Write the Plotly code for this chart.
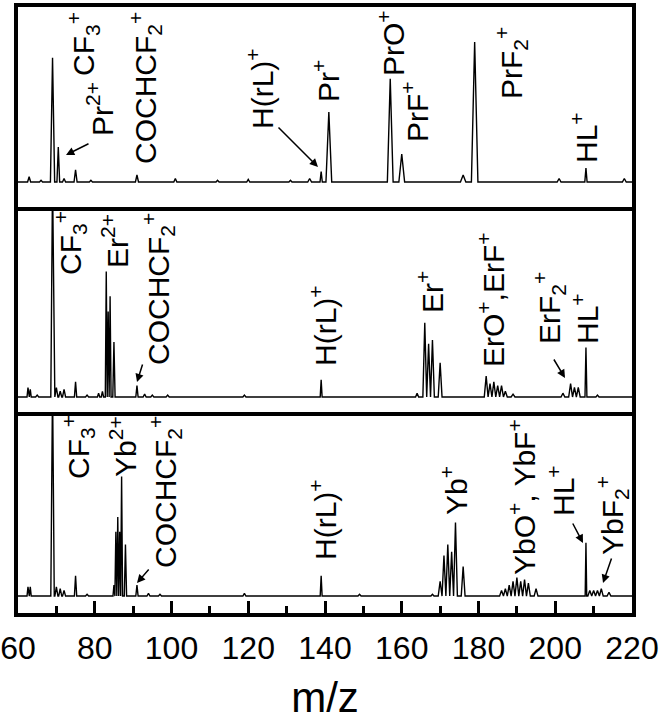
import plotly.graph_objects as go
from plotly.subplots import make_subplots

# peak tables (m/z, relative intensity, half width)
pr_mz = [62.9, 66.0, 69.0, 70.5, 72.0, 75.0, 79.0, 91.0, 101.0, 112.0, 120.0,
         131.0, 136.0, 139.0, 141.0, 157.0, 160.0, 176.0, 179.0, 201.0, 208.0, 218.0]
pr_int = [3, 1, 71, 20, 2, 7, 1, 4, 2, 1, 1.5, 1, 2, 6, 40, 59, 16, 4, 80, 2, 8, 2]
pr_hw = [0.4, 0.4, 0.55, 0.35, 0.4, 0.4, 0.4, 0.4, 0.4, 0.4, 0.4,
         0.4, 0.5, 0.3, 0.75, 0.75, 0.75, 0.7, 0.85, 0.5, 0.3, 0.5]

er_mz = [62.6, 63.2, 65.0, 69.0, 70.0, 71.0, 72.0, 75.0, 78.0, 81.0, 82.0, 83.0,
         83.5, 84.0, 85.0, 91.0, 93.0, 95.0, 99.0, 119.0, 139.0, 164.0, 166.0,
         167.0, 168.0, 170.0, 182.0, 183.0, 184.0, 185.0, 186.0, 187.0, 189.0,
         202.0, 204.0, 205.0, 206.0, 208.0, 211.0]
er_int = [5, 4, 1, 115, 5, 3, 4, 8, 1, 2, 3, 66, 45, 53, 29, 6, 1.5, 1, 1, 1, 9, 2, 39,
          28, 30, 18, 11, 7, 8, 6, 6, 3, 1.5, 2, 7, 5, 5, 26, 1]
er_hw = [0.25, 0.25, 0.4, 0.45, 0.4, 0.4, 0.4, 0.3, 0.4, 0.3, 0.3, 0.25,
         0.25, 0.25, 0.3, 0.3, 0.4, 0.4, 0.4, 0.4, 0.25, 0.4, 0.5,
         0.5, 0.5, 0.5, 0.5, 0.5, 0.5, 0.5, 0.5, 0.5, 0.5,
         0.5, 0.5, 0.5, 0.5, 0.25, 0.4]

yb_mz = [62.6, 63.2, 69.0, 70.0, 71.0, 72.0, 75.0, 78.0, 85.0, 85.5, 86.0, 86.5,
         87.0, 88.0, 91.0, 94.0, 97.0, 119.0, 139.0, 149.0, 168.0, 170.0, 171.0,
         172.0, 173.0, 174.0, 176.0, 186.0, 187.0, 188.0, 189.0, 190.0, 191.0,
         192.0, 193.0, 195.0, 208.0, 209.0, 210.0, 211.0, 212.0, 214.0]
yb_int = [5, 5, 115, 5, 4, 3, 11, 1, 6, 35, 43, 35, 65, 28, 6, 1.5, 1, 1.5, 11, 1, 1,
          8, 22, 28, 24, 40, 16, 3, 4, 6, 8, 10, 8, 9, 7, 4, 29, 3, 3, 3, 4, 2]
yb_hw = [0.25, 0.25, 0.45, 0.4, 0.4, 0.4, 0.3, 0.4, 0.25, 0.25, 0.25, 0.25,
         0.25, 0.3, 0.3, 0.4, 0.4, 0.4, 0.25, 0.4, 0.4, 0.5, 0.5,
         0.5, 0.5, 0.5, 0.5, 0.5, 0.5, 0.5, 0.5, 0.5, 0.5,
         0.5, 0.5, 0.5, 0.2, 0.5, 0.5, 0.5, 0.5, 0.5]

MZ_RANGE = [60, 220]
FONT = "Arial, Liberation Sans, sans-serif"

# figure geometry (pixels) used to place the labels in paper coords
L, R, T, B = 18, 632, 7, 613


def profile(mz, inten, hw):
    """Turn a peak table into a stick-like line profile."""
    xs, ys = [MZ_RANGE[0]], [0]
    for c, h, w in sorted(zip(mz, inten, hw)):
        xs += [c - w, c, c + w]
        ys += [0, h, 0]
    xs.append(MZ_RANGE[1])
    ys.append(0)
    return xs, ys


def px(x, y):
    return (x - L) / (R - L), (B - y) / (B - T)


panels = [
    (pr_mz, pr_int, pr_hw, [-14.3, 100]),
    (er_mz, er_int, er_hw, [-7.9, 100]),
    (yb_mz, yb_int, yb_hw, [-9.2, 100]),
]

fig = make_subplots(rows=3, cols=1, shared_xaxes=True, vertical_spacing=0,
                    row_heights=[200, 205, 201])

for i, (mz, inten, hw, yr) in enumerate(panels, start=1):
    xs, ys = profile(mz, inten, hw)
    fig.add_trace(go.Scatter(x=xs, y=ys, mode="lines",
                             line=dict(color="black", width=1.4),
                             showlegend=False, hoverinfo="skip"),
                  row=i, col=1)
    fig.update_yaxes(range=yr, showline=True, mirror=True, linewidth=4,
                     linecolor="black", ticks="", showticklabels=False,
                     showgrid=False, zeroline=False, automargin=False,
                     row=i, col=1)
    # only the top panel mirrors its x line, so dividers are drawn once
    fig.update_xaxes(range=MZ_RANGE, showline=True, mirror=(i == 1), linewidth=4,
                     linecolor="black", showgrid=False, zeroline=False,
                     ticks="", showticklabels=False, automargin=False,
                     row=i, col=1)

fig.update_xaxes(ticks="inside", dtick=20, tick0=60, ticklen=12, tickwidth=3,
                 tickcolor="black", showticklabels=True, ticklabelstandoff=4,
                 tickfont=dict(family=FONT, size=32, color="black"),
                 minor=dict(ticks="inside", dtick=10, ticklen=7, tickwidth=3,
                            tickcolor="black"),
                 title=dict(text="m/z", font=dict(family=FONT, size=42, color="black"),
                            standoff=33),
                 row=3, col=1)

# rotated peak labels: (text, centre x px, centre y px)
labels = [
    ("CF<sub>3</sub><sup>+</sup>", 83, 44),
    ("Pr<sup>2+</sup>", 100, 109),
    ("COCHCF<sub>2</sub><sup>+</sup>", 145, 88),
    ("H(rL)<sup>+</sup>", 260, 89),
    ("Pr<sup>+</sup>", 326, 81),
    ("PrO<sup>+</sup>", 391, 43),
    ("PrF<sup>+</sup>", 415, 112),
    ("PrF<sub>2</sub><sup>+</sup>", 511, 63),
    ("HL<sup>+</sup>", 584, 138),
    ("CF<sub>3</sub><sup>+</sup>", 70, 243),
    ("Er<sup>2+</sup>", 115, 241),
    ("COCHCF<sub>2</sub><sup>+</sup>", 158, 289),
    ("H(rL)<sup>+</sup>", 323, 326),
    ("Er<sup>+</sup>", 430, 292),
    ("ErO<sup>+</sup>,ErF<sup>+</sup>", 491, 300),
    ("ErF<sub>2</sub><sup>+</sup>", 549, 308),
    ("HL<sup>+</sup>", 585, 319),
    ("CF<sub>3</sub><sup>+</sup>", 78, 447),
    ("Yb<sup>2+</sup>", 123, 447),
    ("COCHCF<sub>2</sub><sup>+</sup>", 165, 492),
    ("H(rL)<sup>+</sup>", 323, 520),
    ("Yb<sup>+</sup>", 454, 491),
    ("YbO<sup>+</sup>, YbF<sup>+</sup>", 522, 497),
    ("HL<sup>+</sup>", 561, 491),
    ("YbF<sub>2</sub><sup>+</sup>", 612, 516),
]
for text, x, y in labels:
    xp, yp = px(x, y)
    fig.add_annotation(text=text, x=xp, y=yp, xref="paper", yref="paper",
                       xanchor="center", yanchor="middle", textangle=-90,
                       showarrow=False,
                       font=dict(family=FONT, size=30, color="black"))

# arrows: (tail x, tail y, head x, head y) in px
arrows = [
    (90, 143, 66, 155), (277, 126, 318, 167),
    (143, 363, 137, 382), (553, 358, 565, 378),
    (150, 568, 137, 583), (572, 522, 583, 543), (612, 557, 603, 583),
]
for tx, ty, hx, hy in arrows:
    xp, yp = px(hx, hy)
    fig.add_annotation(text="", x=xp, y=yp, xref="paper", yref="paper",
                       ax=tx - hx, ay=ty - hy, showarrow=True, arrowhead=2,
                       arrowsize=1.1, arrowwidth=1.5, arrowcolor="black",
                       standoff=0)

fig.update_layout(
    width=660, height=721,
    margin=dict(l=L, r=660 - R, t=T, b=721 - B),
    plot_bgcolor="white", paper_bgcolor="white",
    font=dict(family=FONT, color="black"),
)

# no page margin / scrollbar so the figure sits at the window origin
fig.write_html("out.html", config={"displayModeBar": False},
               post_script="document.body.style.margin='0';"
                           "document.body.style.overflow='hidden';")
